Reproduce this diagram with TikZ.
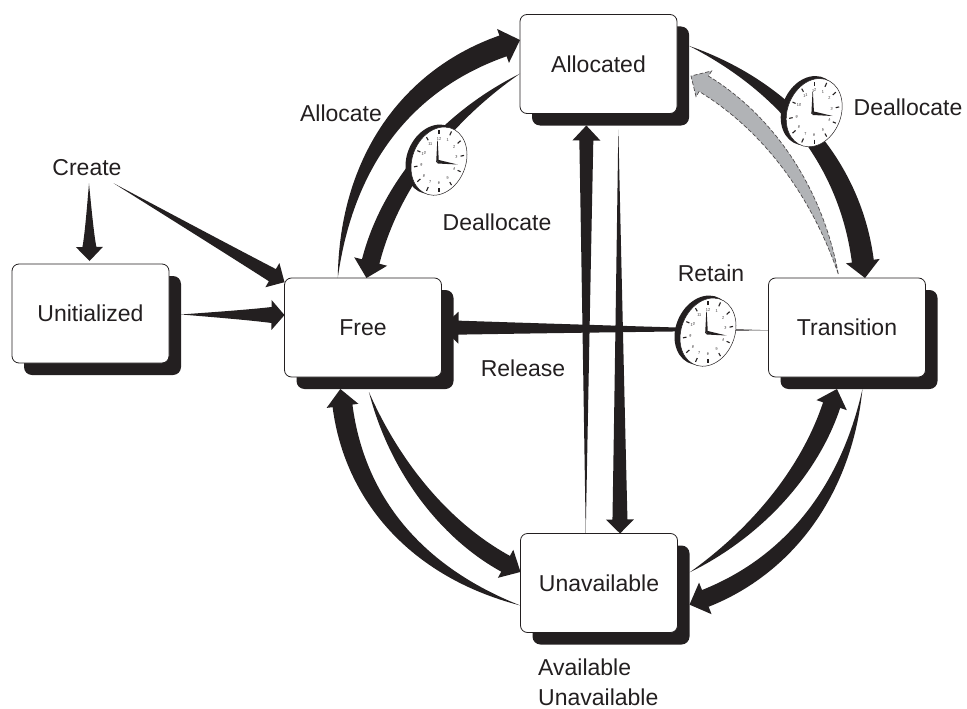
\documentclass[tikz,border=0pt]{standalone}
\usepackage{fontspec}
\setmainfont{Liberation Sans}
\usetikzlibrary{calc}

\definecolor{ink}{HTML}{231F20}
\definecolor{flowgrey}{HTML}{B1B3B6}

\tikzset{
  statebox/.style={draw=ink, line width=.8pt, fill=white, rounded corners=7pt, outer sep=0pt,
    minimum width=157pt, minimum height=99pt, font=\fontsize{23}{27}\selectfont, text=ink},
  shadowbox/.style={fill=ink, rounded corners=8pt, outer sep=0pt, inner sep=0pt,
    minimum width=157pt, minimum height=99pt},
  lbl/.style={inner sep=0pt, font=\fontsize{23}{27}\selectfont, text=ink},
  taper/.style={fill=ink},
  taperdash/.style={fill=flowgrey, draw=ink!80, line width=.7pt, dash pattern=on 4pt off 2pt},
  clock/.pic={
    \begin{scope}[x=1pt,y=1pt,yslant=.23]
      \fill[ink] (-3,3) ellipse (29 and 34);
      \filldraw[fill=white, draw=ink, line width=.5pt] (1.5,0) ellipse (28 and 33.5);
      % hour ticks and numbers
      \foreach \h in {1,...,12} {
        \pgfmathsetmacro{\a}{90-30*\h}
        \draw[ink, line width=1.1pt] ({1.5+21.5*cos(\a)},{27*sin(\a)}) -- ({1.5+25*cos(\a)},{31*sin(\a)});
        \node[inner sep=0pt, text=ink, transform shape, font=\fontsize{3.8}{4}\selectfont] (num\h)
          at ({1.5+17.5*cos(\a)},{22*sin(\a)}) {\h};
      }
      % hands
      \fill[ink] (-1.3,0) -- (-.2,21) -- (.2,21) -- (1.3,0) -- cycle;
      \fill[ink] (0,1.8) -- (20,-7.6) -- (0,-2) -- cycle;
      \filldraw[fill=white, draw=ink, line width=.7pt] (0,0) circle (1);
    \end{scope}
  }
}

% style, from, to, bend, shaft half width, head half width, head length
\newcommand{\taperarrow}[7]{
  \pgfmathsetmacro{\tfa}{ifthenelse(#4==0,.33,.8)}
  \pgfmathsetmacro{\tfb}{ifthenelse(#4==0,.67,1)}
  \coordinate (tfrom) at (#2);
  \coordinate (tto) at (#3);
  \coordinate (tca) at ($(tfrom)!.33!(tto)!#4pt!90:(tto)$);
  \coordinate (tcb) at ($(tfrom)!.67!(tto)!#4pt!90:(tto)$);
  \coordinate (tbase) at ($(tto)!#7pt!(tcb)$);
  \path[#1] (tfrom)
    .. controls ($(tca)!\tfa*#5pt!90:(tcb)$) and ($(tcb)!\tfb*#5pt!90:(tto)$) .. ($(tbase)!#5pt!90:(tto)$)
    -- ($(tbase)!#6pt!90:(tto)$) -- (tto) -- ($(tbase)!#6pt!-90:(tto)$)
    -- ($(tbase)!#5pt!-90:(tto)$)
    .. controls ($(tcb)!\tfb*#5pt!-90:(tto)$) and ($(tca)!\tfa*#5pt!-90:(tcb)$) .. (tfrom) -- cycle;
}

\begin{document}
\begin{tikzpicture}[x=1pt,y=-1pt]
  \useasboundingbox (0,0) rectangle (967,709);

  % State boxes
  \node[shadowbox] (unitS) at (102.5,325.5) {};
  \node[shadowbox] (freeS) at (375,339.5) {};
  \node[shadowbox] (allocS) at (610.5,76) {};
  \node[shadowbox] (transS) at (859,339.5) {};
  \node[shadowbox] (unavailS) at (611,595) {};

  \node[statebox] (unit) at (90.5,313.5) {Unitialized};
  \node[statebox] (free) at (363,327.5) {Free};
  \node[statebox] (alloc) at (598.5,64) {Allocated};
  \node[statebox] (trans) at (847,327.5) {Transition};
  \node[statebox] (unavail) at (599,583) {Unavailable};

  % Labels
  \node[lbl] (create) at (87,168) {Create};
  \node[lbl] (allocate) at (341,113) {Allocate};
  \node[lbl] (dealloc) at (497,222) {Deallocate};
  \node[lbl] (dealloctwo) at (908,107) {Deallocate};
  \node[lbl] (retain) at (711,273) {Retain};
  \node[lbl] (release) at (523,368) {Release};
  \node[lbl, anchor=west] (avail) at (538,667) {Available};
  \node[lbl, anchor=west] (unavailtext) at (538,697) {Unavailable};

  % Creation
  \taperarrow{taper}{$(create.south)+(2,7)$}{$(unit.north)+(-1,-3)$}{0}{7}{13.5}{14}
  \taperarrow{taper}{$(create.south east)+(-8,7)$}{free.150}{0}{7}{14}{14}
  \taperarrow{taper}{unitS.8.3}{free.171}{0}{8}{15}{13}

  % Free and Allocated
  \taperarrow{taper}{free.117.2}{alloc.163.7}{65}{11}{18}{18}
  \taperarrow{taper}{alloc.187.3}{free.86.6}{-35}{9}{17}{17}

  % Allocated and Transition
  \taperarrow{taper}{allocS.21.5}{trans.70}{55}{11}{17}{17}
  \taperarrow{taperdash}{$(trans.100.3)+(0,-4)$}{$(allocS.east)+(2,0)$}{-33}{9}{15}{15}

  % Retain
  \taperarrow{taper}{trans.182}{free.east}{0}{7}{16}{17}

  % Allocated and Unavailable
  \taperarrow{taper}{unavail.105.8}{allocS.244.6}{0}{7}{14}{15}
  \taperarrow{taper}{$(allocS.279.7)+(0,4)$}{unavail.67}{0}{7.5}{14}{14}

  % Free and Unavailable
  \taperarrow{taper}{$(freeS.263)+(0,3)$}{unavail.172}{-30}{9}{16}{17}
  \taperarrow{taper}{unavail.196.2}{freeS.235.5}{59}{10}{16}{17}

  % Transition and Unavailable
  \taperarrow{taper}{unavailS.16.3}{transS.246}{-29}{9}{16}{17}
  \taperarrow{taper}{transS.274.6}{unavailS.353.5}{52}{9}{17}{17}

  % Clocks
  \pic (clockA) at (437.5,161.5) {clock};
  \pic (clockB) at (812.7,113) {clock};
  \pic (clockC) at (706.5,332.5) {clock};
\end{tikzpicture}
\end{document}
